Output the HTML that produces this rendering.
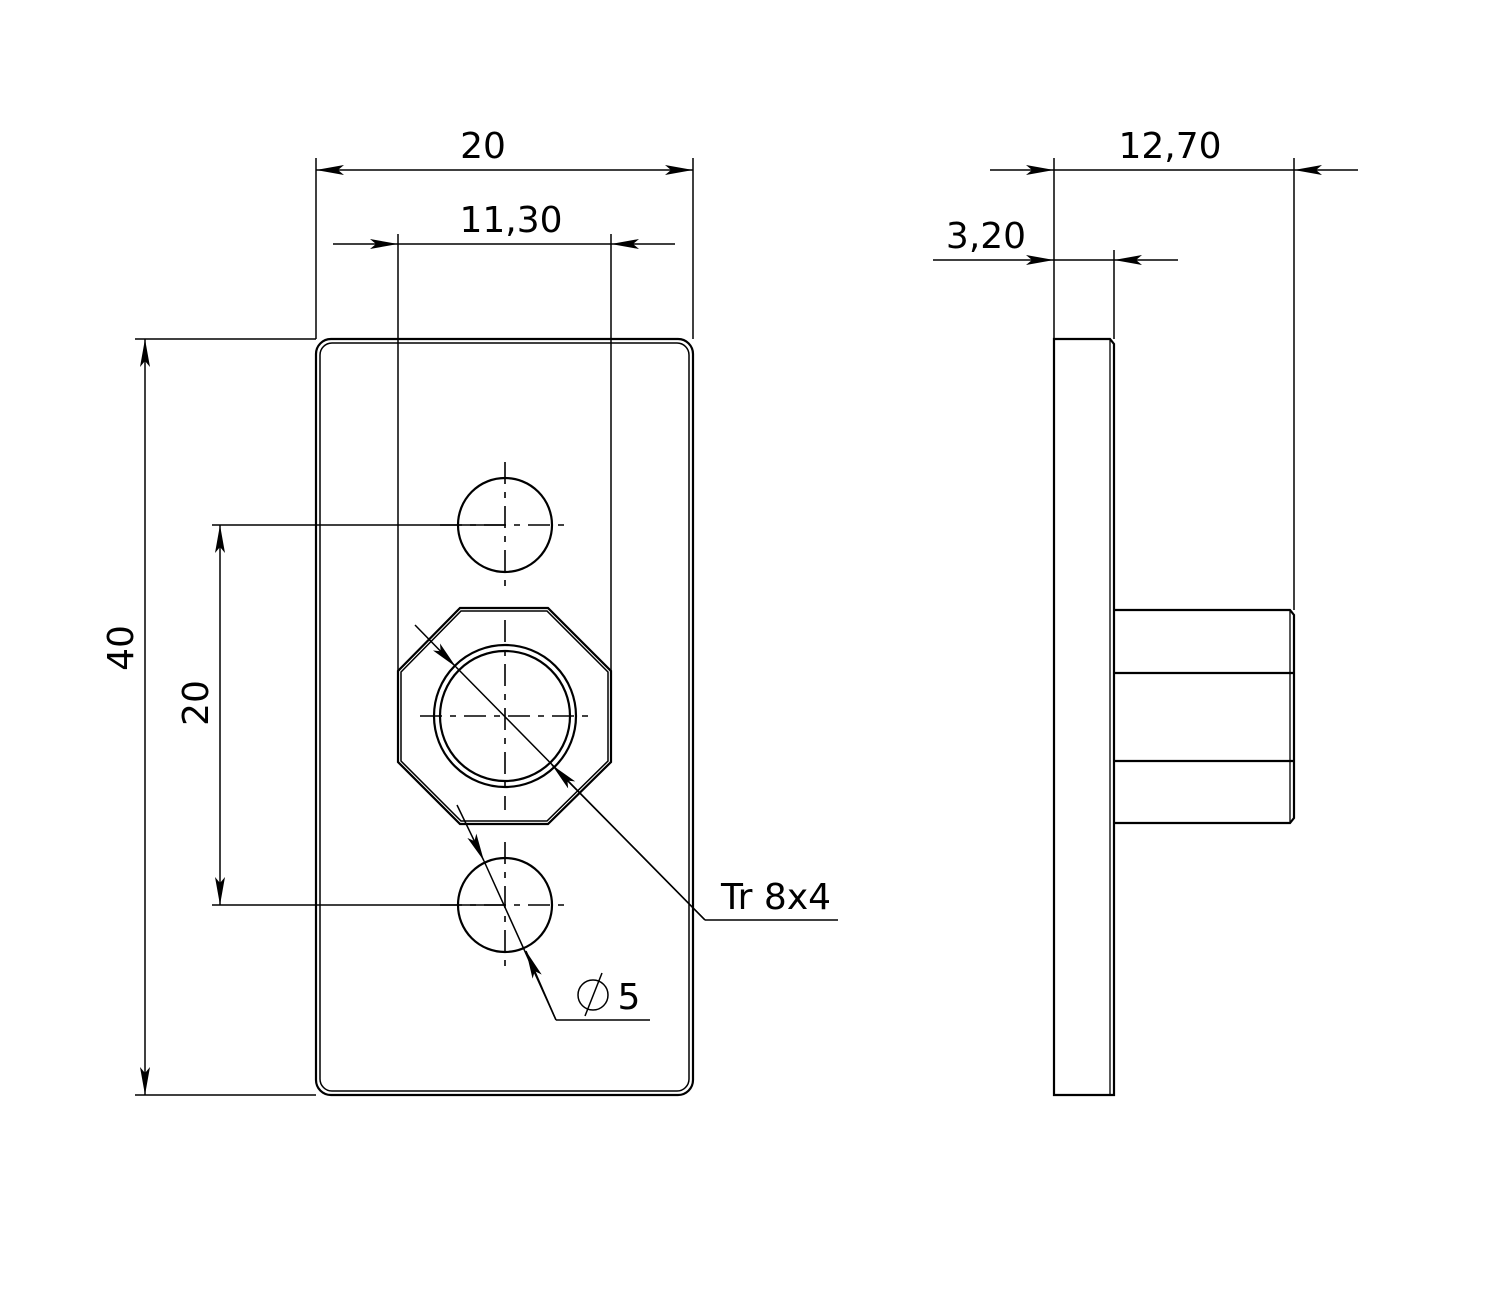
<!DOCTYPE html>
<html><head><style>html,body{margin:0;padding:0;background:#fff}</style></head><body>
<svg width="1500" height="1300" viewBox="0 0 1500 1300" xmlns="http://www.w3.org/2000/svg" font-family="'DejaVu Sans','Liberation Sans',sans-serif" font-size="36">
<defs>
<marker id="a" viewBox="0 0 28 10" refX="28" refY="5" markerWidth="28" markerHeight="10" markerUnits="userSpaceOnUse" orient="auto-start-reverse"><path d="M0,0 L28,5 L0,10 L6,5 Z" fill="#000"/></marker>
</defs>
<g fill="none" stroke="#000" stroke-width="2.2">
<rect x="316" y="339" width="377" height="756" rx="15"/>
<rect x="320" y="343" width="369" height="748" rx="12" stroke-width="1.5"/>
<circle cx="505" cy="525" r="47"/>
<circle cx="505" cy="905" r="47"/>
<polygon points="460,608 548,608 611,671 611,762 548,824 460,824 398,762 398,671"/>
<polygon points="461,611 547,611 608,672 608,761 547,821 461,821 401,761 401,672" stroke-width="1.5"/>
<circle cx="505" cy="716" r="71"/>
<circle cx="505" cy="716" r="65"/>
</g>
<g stroke="#000" stroke-width="1.6" stroke-dasharray="22,8,6,8" fill="none">
<line x1="505" y1="462" x2="505" y2="590"/><line x1="440" y1="525" x2="570" y2="525"/>
<line x1="505" y1="842" x2="505" y2="970"/><line x1="440" y1="905" x2="570" y2="905"/>
<line x1="505" y1="620" x2="505" y2="810"/><line x1="420" y1="716" x2="590" y2="716"/>
</g>
<g stroke="#000" stroke-width="1.5" fill="none">
<line x1="316" y1="339" x2="316" y2="158"/><line x1="693" y1="339" x2="693" y2="158"/>
<line x1="316" y1="170" x2="693" y2="170" marker-start="url(#a)" marker-end="url(#a)"/>
<line x1="398" y1="671" x2="398" y2="234"/><line x1="611" y1="671" x2="611" y2="234"/>
<line x1="333" y1="244" x2="398" y2="244" marker-end="url(#a)"/>
<line x1="675" y1="244" x2="611" y2="244" marker-end="url(#a)"/>
<line x1="398" y1="244" x2="611" y2="244"/>
<line x1="135" y1="339" x2="316" y2="339"/><line x1="135" y1="1095" x2="316" y2="1095"/>
<line x1="145" y1="339" x2="145" y2="1095" marker-start="url(#a)" marker-end="url(#a)"/>
<line x1="212" y1="525" x2="505" y2="525"/><line x1="212" y1="905" x2="505" y2="905"/>
<line x1="220" y1="525" x2="220" y2="905" marker-start="url(#a)" marker-end="url(#a)"/>
<line x1="415" y1="625" x2="456" y2="667" marker-end="url(#a)"/>
<line x1="456" y1="667" x2="705" y2="920"/>
<line x1="705" y1="920" x2="552" y2="765" marker-end="url(#a)"/>
<line x1="705" y1="920" x2="838" y2="920"/>
<line x1="457" y1="805" x2="484" y2="861" marker-end="url(#a)"/>
<line x1="484" y1="861" x2="556" y2="1020"/>
<line x1="556" y1="1020" x2="526" y2="951" marker-end="url(#a)"/>
<line x1="556" y1="1020" x2="650" y2="1020"/>
<circle cx="593" cy="995" r="15"/>
<line x1="585" y1="1016" x2="602" y2="973"/>
</g>
<g fill="none" stroke="#000" stroke-width="2.2">
<path d="M1054,339 L1110,339 L1114,344 L1114,1095 L1054,1095 Z"/>
<line x1="1110" y1="339" x2="1110" y2="1095" stroke-width="1.3"/>
<path d="M1115,610 L1290,610 L1294,615 L1294,818 L1290,823 L1115,823"/>
<line x1="1290" y1="610" x2="1290" y2="823" stroke-width="1.3"/>
<line x1="1115" y1="673" x2="1294" y2="673"/>
<line x1="1115" y1="761" x2="1294" y2="761"/>
</g>
<g stroke="#000" stroke-width="1.5" fill="none">
<line x1="1054" y1="339" x2="1054" y2="158"/><line x1="1114" y1="339" x2="1114" y2="250"/>
<line x1="1294" y1="610" x2="1294" y2="158"/>
<line x1="990" y1="170" x2="1054" y2="170" marker-end="url(#a)"/>
<line x1="1358" y1="170" x2="1294" y2="170" marker-end="url(#a)"/>
<line x1="1054" y1="170" x2="1294" y2="170"/>
<line x1="933" y1="260" x2="1054" y2="260" marker-end="url(#a)"/>
<line x1="1178" y1="260" x2="1114" y2="260" marker-end="url(#a)"/>
<line x1="1054" y1="260" x2="1114" y2="260"/>
</g>
<g fill="#000" text-anchor="middle">
<text x="483" y="158">20</text>
<text x="511" y="232">11,30</text>
<text x="1170" y="158">12,70</text>
<text x="986" y="248">3,20</text>
<text transform="translate(133,648) rotate(-90)">40</text>
<text transform="translate(208,703) rotate(-90)">20</text>
<text x="776" y="909">Tr 8x4</text>
<text x="629" y="1009">5</text>
</g>
</svg>
</body></html>
